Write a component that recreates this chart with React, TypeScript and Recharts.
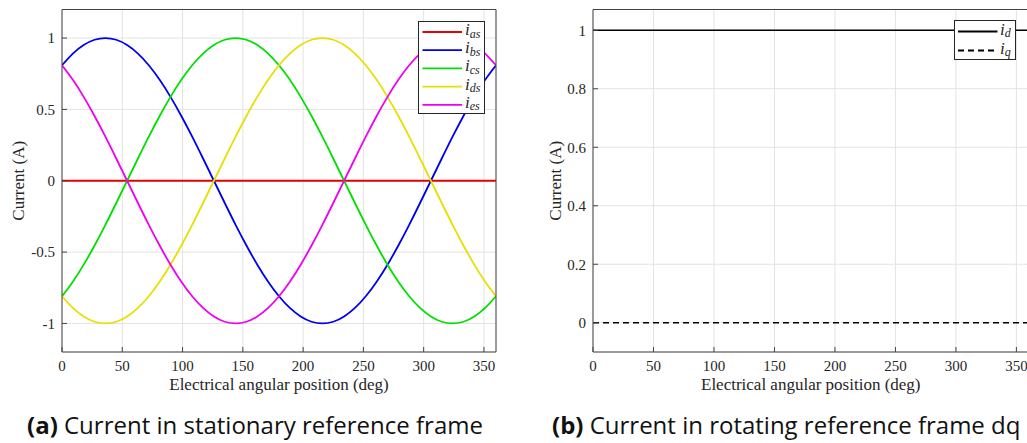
import { LineChart, Line, XAxis, YAxis, CartesianGrid } from 'recharts'

// electrical angle (deg), sampled every 9 degrees
const angle = [
  0, 9, 18, 27, 36, 45, 54, 63, 72, 81, 90, 99, 108, 117, 126, 135, 144, 153, 162, 171, 180,
  189, 198, 207, 216, 225, 234, 243, 252, 261, 270, 279, 288, 297, 306, 315, 324, 333, 342, 351, 360,
]
const ias = [
  0, 0, 0, 0, 0, 0, 0, 0, 0, 0, 0, 0, 0, 0, 0, 0, 0, 0, 0, 0, 0,
  0, 0, 0, 0, 0, 0, 0, 0, 0, 0, 0, 0, 0, 0, 0, 0, 0, 0, 0, 0,
]
const ibs = [
  0.809, 0.891, 0.951, 0.988, 1, 0.988, 0.951, 0.891, 0.809, 0.707, 0.588, 0.454, 0.309, 0.156, 0,
  -0.156, -0.309, -0.454, -0.588, -0.707, -0.809, -0.891, -0.951, -0.988, -1, -0.988, -0.951, -0.891,
  -0.809, -0.707, -0.588, -0.454, -0.309, -0.156, 0, 0.156, 0.309, 0.454, 0.588, 0.707, 0.809,
]
const ics = [
  -0.809, -0.707, -0.588, -0.454, -0.309, -0.156, 0, 0.156, 0.309, 0.454, 0.588, 0.707, 0.809, 0.891,
  0.951, 0.988, 1, 0.988, 0.951, 0.891, 0.809, 0.707, 0.588, 0.454, 0.309, 0.156, 0, -0.156, -0.309,
  -0.454, -0.588, -0.707, -0.809, -0.891, -0.951, -0.988, -1, -0.988, -0.951, -0.891, -0.809,
]
const ids = [
  -0.809, -0.891, -0.951, -0.988, -1, -0.988, -0.951, -0.891, -0.809, -0.707, -0.588, -0.454, -0.309,
  -0.156, 0, 0.156, 0.309, 0.454, 0.588, 0.707, 0.809, 0.891, 0.951, 0.988, 1, 0.988, 0.951, 0.891,
  0.809, 0.707, 0.588, 0.454, 0.309, 0.156, 0, -0.156, -0.309, -0.454, -0.588, -0.707, -0.809,
]
const ies = [
  0.809, 0.707, 0.588, 0.454, 0.309, 0.156, 0, -0.156, -0.309, -0.454, -0.588, -0.707, -0.809, -0.891,
  -0.951, -0.988, -1, -0.988, -0.951, -0.891, -0.809, -0.707, -0.588, -0.454, -0.309, -0.156, 0, 0.156,
  0.309, 0.454, 0.588, 0.707, 0.809, 0.891, 0.951, 0.988, 1, 0.988, 0.951, 0.891, 0.809,
]

// rotating frame
const dqAngle = [0, 360]
const idValues = [1, 1]
const iqValues = [0, 0]

const xTicks = [0, 50, 100, 150, 200, 250, 300, 350]
const abcTicks = [-1, -0.5, 0, 0.5, 1]
const dqTicks = [0, 0.2, 0.4, 0.6, 0.8, 1]

const abcData = angle.map((a, i) => ({ angle: a, ias: ias[i], ibs: ibs[i], ics: ics[i], ids: ids[i], ies: ies[i] }))
const dqData = dqAngle.map((a, i) => ({ angle: a, id: idValues[i], iq: iqValues[i] }))

const abcSeries = [
  { key: 'ias', sub: 'as', color: '#e60000' },
  { key: 'ibs', sub: 'bs', color: '#0000f0' },
  { key: 'ics', sub: 'cs', color: '#00e000' },
  { key: 'ids', sub: 'ds', color: '#e6e000' },
  { key: 'ies', sub: 'es', color: '#f000f0' },
]
const dqSeries = [
  { key: 'id', sub: 'd', color: '#000', dash: undefined },
  { key: 'iq', sub: 'q', color: '#000', dash: '6 4' },
]

const axisColor = '#444'
const serif = '"Liberation Serif", "DejaVu Serif", serif'
const tickStyle = { fill: '#262626', fontSize: 15, fontFamily: serif }
const labelStyle = { fill: '#262626', fontSize: 17, fontFamily: serif, textAnchor: 'middle' as const }

function LegendBox({ left, top, width, height, items, first, step, lineFrom, lineTo, textX }: any) {
  return (
    <svg style={{ position: 'absolute', left, top, overflow: 'visible' }} width={width} height={height}>
      <rect x={0.5} y={0.5} width={width - 1} height={height - 1} fill="#fff" stroke="#262626" strokeWidth={1} />
      {items.map((s: any, i: number) => {
        const y = first + i * step
        return (
          <g key={s.key}>
            <line x1={lineFrom} x2={lineTo} y1={y} y2={y} stroke={s.color} strokeWidth={1.8} strokeDasharray={s.dash} />
            <text x={textX} y={y + 3} fontFamily={serif} fill="#262626" fontSize={17}>
              <tspan fontStyle="italic">i</tspan>
              <tspan fontStyle="italic" fontSize={12} dy={2.5}>{s.sub}</tspan>
            </text>
          </g>
        )
      })}
    </svg>
  )
}

export default function App() {
  return (
    <div style={{ position: 'absolute', left: 0, top: 0, width: 1027, height: 443, overflow: 'hidden', background: '#fff' }}>
      <div style={{ position: 'absolute', left: 0, top: 0 }}>
        <LineChart width={520} height={443} data={abcData} margin={{ top: 8.5, right: 23, bottom: 51, left: 0 }}>
          <CartesianGrid stroke="#e3e3e3" strokeWidth={1} />
          <XAxis dataKey="angle" type="number" domain={[0, 360]} ticks={xTicks} allowDataOverflow height={40}
            stroke={axisColor} tickSize={-5} tickMargin={13} tick={tickStyle} interval={0}
            label={{ value: 'Electrical angular position (deg)', position: 'insideBottom', offset: 2, style: labelStyle }} />
          <XAxis xAxisId="top" orientation="top" type="number" domain={[0, 360]} ticks={xTicks} allowDataOverflow height={1}
            stroke={axisColor} tickSize={-5} tick={false} />
          <YAxis type="number" domain={[-1.2, 1.2]} ticks={abcTicks} allowDataOverflow width={62}
            stroke={axisColor} tickSize={-5} tickMargin={12} tick={tickStyle} interval={0}
            label={{ value: 'Current (A)', angle: -90, position: 'insideLeft', offset: 18, style: labelStyle }} />
          <YAxis yAxisId="right" orientation="right" type="number" domain={[-1.2, 1.2]} ticks={abcTicks} allowDataOverflow width={1}
            stroke={axisColor} tickSize={-5} tick={false} />
          {abcSeries.map((s) => (
            <Line key={s.key} dataKey={s.key} type="natural" stroke={s.color} strokeWidth={1.8} dot={false} activeDot={false} isAnimationActive={false} />
          ))}
        </LineChart>
      </div>
      <LegendBox left={418} top={21} width={67} height={93} items={abcSeries} first={11} step={18.2} lineFrom={4.5} lineTo={44} textX={47} />

      <div style={{ position: 'absolute', left: 520, top: 0 }}>
        <LineChart width={520} height={443} data={dqData} margin={{ top: 8.5, right: 10.5, bottom: 51, left: 0 }}>
          <CartesianGrid stroke="#e3e3e3" strokeWidth={1} />
          <XAxis dataKey="angle" type="number" domain={[0, 360]} ticks={xTicks} allowDataOverflow height={40}
            stroke={axisColor} tickSize={-5} tickMargin={13} tick={tickStyle} interval={0}
            label={{ value: 'Electrical angular position (deg)', position: 'insideBottom', offset: 2, style: labelStyle }} />
          <XAxis xAxisId="top" orientation="top" type="number" domain={[0, 360]} ticks={xTicks} allowDataOverflow height={1}
            stroke={axisColor} tickSize={-5} tick={false} />
          <YAxis type="number" domain={[-0.1, 1.071]} ticks={dqTicks} allowDataOverflow width={73}
            stroke={axisColor} tickSize={-5} tickMargin={12} tick={tickStyle} interval={0}
            label={{ value: 'Current (A)', angle: -90, position: 'insideLeft', offset: 35, style: labelStyle }} />
          <YAxis yAxisId="right" orientation="right" type="number" domain={[-0.1, 1.071]} ticks={dqTicks} allowDataOverflow width={1}
            stroke={axisColor} tickSize={-5} tick={false} />
          {dqSeries.map((s) => (
            <Line key={s.key} dataKey={s.key} type="linear" stroke={s.color} strokeWidth={1.6} strokeDasharray={s.dash} dot={false} activeDot={false} isAnimationActive={false} />
          ))}
        </LineChart>
      </div>
      <LegendBox left={954} top={20} width={62} height={40} items={dqSeries} first={11.5} step={19} lineFrom={4} lineTo={43.5} textX={46} />

      <svg style={{ position: 'absolute', left: 0, top: 0 }} width={1027} height={443}>
        <text x={27} y={434} fontFamily='"Open Sans", sans-serif' fontSize={24} fill="#111">
          <tspan fontWeight="bold">(a)</tspan> Current in stationary reference frame
        </text>
        <text x={552} y={434} fontFamily='"Open Sans", sans-serif' fontSize={24} fill="#111">
          <tspan fontWeight="bold">(b)</tspan> Current in rotating reference frame dq
        </text>
      </svg>
    </div>
  )
}
